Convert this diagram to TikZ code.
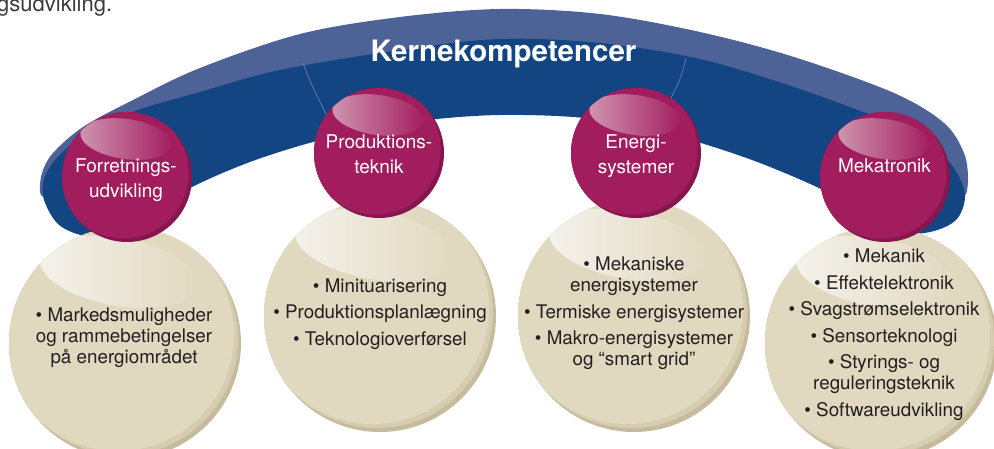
\documentclass[tikz,border=0pt]{standalone}
\usepackage{fontspec}
\setmainfont{TeX Gyre Heros}
\definecolor{bandDark}{RGB}{20,69,131}
\definecolor{bandLight}{RGB}{77,98,150}
\definecolor{sepLine}{RGB}{120,145,190}
\definecolor{pinkBase}{RGB}{161,29,94}
\definecolor{pinkRim}{RGB}{134,23,78}
\definecolor{pinkHi}{RGB}{208,150,176}
\definecolor{beigeBase}{RGB}{225,216,192}
\definecolor{beigeMid}{RGB}{214,204,176}
\definecolor{beigeRim}{RGB}{198,187,156}
\definecolor{beigeHi}{RGB}{245,242,236}
\definecolor{txtDark}{RGB}{35,31,32}
\definecolor{txtGray}{RGB}{60,60,60}
\newcommand\pinkdeco[1]{%
  \begin{scope}[shift={(#1)}]
    \clip (0,0) circle (65);
    \fill[pinkBase] (-3.5,-3.5) circle (65);
    \shade[left color=pinkHi, right color=pinkBase, shift={(-1,-38)}, rotate=-8]
      (0,0) ellipse (46 and 20);
  \end{scope}}
\newcommand\beigedeco[1]{%
  \begin{scope}[shift={(#1)}]
    \clip (0,0) circle (116);
    \fill[beigeMid] (-3,-4) circle (116);
    \fill[beigeBase] (-7,-8) circle (116);
    \shade[left color=beigeHi, right color=beigeBase, shift={(-6,-71)}, rotate=-10]
      (0,0) ellipse (80 and 34);
  \end{scope}}
\begin{document}
\begin{tikzpicture}[x=1pt,y=-1pt,
  pinkball/.style={circle, minimum size=130pt, inner sep=0pt, fill=pinkRim},
  beigeball/.style={circle, minimum size=232pt, inner sep=0pt, fill=beigeRim},
  titletxt/.style={anchor=base, inner sep=0pt, text=white,
    font=\fontsize{29.5}{32}\selectfont\bfseries},
  pinktxt/.style={anchor=base, inner sep=0pt, text=white, align=center,
    font=\fontsize{19}{25.5}\selectfont},
  beigetxt/.style={anchor=base, inner sep=0pt, text=txtDark, align=center,
    font=\fontsize{18.8}{21}\selectfont},
  seprule/.style={draw=sepLine, line width=0.5pt}
]
\useasboundingbox (0,0) rectangle (994,449);
\clip (0,0) rectangle (994,449);

% top-left cut-off text
\node[anchor=base west, inner sep=0pt, text=txtGray,
  font=\fontsize{22}{26}\selectfont] (toptext) at (-3,11.5) {gsudvikling.};

% arch band: light upper face
\fill[bandLight] plot[smooth cycle, tension=0.55] coordinates {
  (40,192) (42,173) (53,153) (83,127) (133,100) (200,68) (300,34) (400,17)
  (500,9) (600,14) (700,32) (794,57) (894,93) (944,123) (964,153) (968,180)
  (964,196) (950,180) (925,150) (880,125) (794,95) (700,70) (500,50)
  (300,75) (200,100) (133,120) (80,145) (55,170) (45,195)};
% arch band: dark front
\fill[bandDark] plot[smooth cycle, tension=0.55] coordinates {
  (43,196) (48,170) (75,142) (133,112) (200,92) (280,70) (400,50) (500,39)
  (600,43) (700,59) (794,87) (877,117) (911,128) (937,148) (957,173) (965,197)
  (956,220) (930,232) (895,232) (850,207) (821,189) (760,163) (701,143)
  (640,126) (573,117) (500,115) (437,119) (375,128) (313,142) (250,162)
  (192,187) (140,217) (108,232) (85,236) (58,224)};
% thin separators in the band
\path[seprule] (303,63) .. controls (312,86) .. (328,118);
\path[seprule] (686,58) .. controls (681,78) .. (670,100);

\node[titletxt] (title) at (503.5,61.7) {Kernekompetencer};

% beige balls
\node[beigeball] (c1) at (125,343) {};
\beigedeco{125,343}
\node[beigeball] (c2) at (380,316) {};
\beigedeco{380,316}
\node[beigeball] (c3) at (634,316) {};
\beigedeco{634,316}
\node[beigeball] (c4) at (881,343) {};
\beigedeco{881,343}

% pink balls
\node[pinkball] (p1) at (127,177) {};
\pinkdeco{127,177}
\node[pinkball] (p2) at (379,153) {};
\pinkdeco{379,153}
\node[pinkball] (p3) at (636,153) {};
\pinkdeco{636,153}
\node[pinkball] (p4) at (885,177) {};
\pinkdeco{885,177}

% pink labels (base = last line)
\node[pinktxt] (t1) at (126,198) {Forretnings-\\udvikling};
\node[pinktxt] (t2) at (379,174) {Produktions-\\teknik};
\node[pinktxt] (t3) at (636,174) {Energi-\\systemer};
\node[pinktxt] (t4) at (884.5,173) {Mekatronik};

% beige lists (base = last line)
\node[beigetxt] (l1) at (124,363) {• Markedsmuligheder\\og rammebetingelser\\på energiområdet};
\node[beigetxt] (l2) at (380,345) {• Minituarisering\\[5.5pt]• Produktionsplanlægning\\[5.5pt]• Teknologioverførsel};
\node[beigetxt] (l3) at (634,365.7) {• Mekaniske\\energisystemer\\[5.5pt]• Termiske energisystemer\\[5.5pt]• Makro-energisystemer\\og “smart grid”};
\node[beigetxt] (l4) at (884,416) {• Mekanik\\[5.5pt]• Effektelektronik\\[5.5pt]• Svagstrømselektronik\\[5.5pt]• Sensorteknologi\\[5.5pt]• Styrings- og\\reguleringsteknik\\[5.5pt]• Softwareudvikling};
\end{tikzpicture}
\end{document}
